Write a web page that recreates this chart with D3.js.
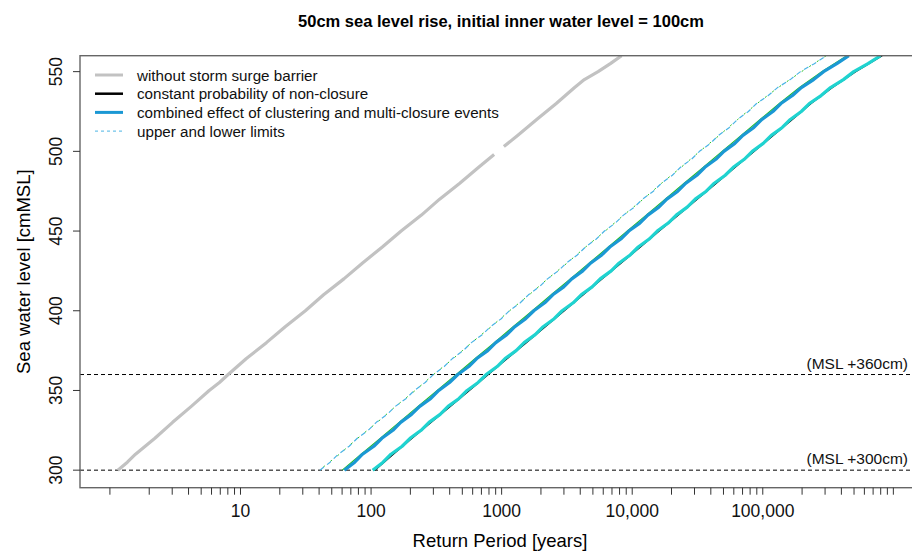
<!DOCTYPE html>
<html>
<head>
<meta charset="utf-8">
<script src="https://cdn.jsdelivr.net/npm/d3@7"></script>
<style>
  html, body { margin: 0; padding: 0; background: #fff; }
  svg { display: block; font-family: "Liberation Sans", Arial, sans-serif; }
</style>
</head>
<body>
<svg id="chart" width="912" height="551"></svg>
<script>
// Water levels (cm above MSL), 5 cm steps, for the main curves
const levelsFine = [300, 305, 310, 315, 320, 325, 330, 335, 340, 345, 350, 355, 360, 365, 370, 375, 380,
                    385, 390, 395, 400, 405, 410, 415, 420, 425, 430, 435, 440, 445, 450, 455, 460, 465,
                    470, 475, 480, 485, 490, 495, 500, 505, 510, 515, 520, 525, 530, 535, 540, 545, 550,
                    555, 560];

// Return periods [years]: combined effect of clustering and multi-closure events
const periodsCombined = [62.4, 75.0, 86.0, 105, 121, 147, 168.5, 204, 236, 287, 330, 399, 462, 560, 645,
                         783, 902, 1095, 1262, 1530, 1765, 2140, 2465, 2990, 3445, 4185, 4820, 5850, 6740,
                         8180, 9420, 11440, 13180, 15990, 18420, 22370, 25760, 31270, 36020, 43720, 50370,
                         61130, 70430, 85480, 98480, 119500, 137700, 168800, 197400, 245300, 292100, 369000,
                         456000];
// Upper limit
const periodsUpper = [40.6, 48.6, 56.1, 68.0, 78.4, 95.0, 109.7, 132.9, 153.3, 185.8, 214.6, 259.8, 300,
                      363.2, 419.5, 508, 586.5, 710.3, 820.2, 993.2, 1147, 1389, 1604, 1942, 2243, 2715,
                      3136, 3797, 4385, 5309, 6131, 7424, 8574, 10380, 11990, 14515, 16760, 20300, 23440,
                      28380, 32770, 39680, 45830, 55490, 64080, 77590, 89600, 110100, 129700, 162300,
                      194400, 248100, 308000];
// Lower limit
const periodsLower = [102.9, 123.5, 142, 173, 199, 241.5, 278, 338, 389, 472, 544, 661, 761, 924, 1063,
                      1291, 1487, 1806, 2080, 2524, 2908, 3530, 4066, 4935, 5686, 6900, 7950, 9650, 11120,
                      13490, 15550, 18870, 21740, 26380, 30400, 36890, 42500, 51580, 59430, 72120, 83100,
                      100850, 116200, 141000, 162500, 197200, 227200, 279800, 330300, 414400, 497500,
                      638800, 798000];

// Water levels, 10 cm steps, for the secondary runs
const levels = [300, 310, 320, 330, 340, 350, 360, 370, 380, 390, 400, 410, 420, 430,
                440, 450, 460, 470, 480, 490, 500, 510, 520, 530, 540, 550, 560];
const periodsConstant = [107, 148, 206, 289, 404, 566, 790, 1105, 1545, 2160, 3020, 4220, 5900, 8240,
                         11560, 16100, 22600, 31450, 44100, 61500, 86200, 120200, 168500, 234500, 342000,
                         515000, 822000];
const periodsCombinedAlt = [60.2, 84, 118, 164, 229, 321, 450, 628, 880, 1225, 1720, 2400, 3360, 4700,
                            6580, 9180, 12800, 17900, 25000, 35100, 48800, 68400, 95500, 134000, 191000,
                            283000, 440000];
const periodsUpperAlt = [40.2, 57.2, 78.9, 111.5, 154, 218, 301, 426, 589, 832, 1150, 1626, 2250, 3180,
                         4400, 6210, 8600, 12150, 16800, 23700, 32900, 46400, 64200, 90500, 131000,
                         198000, 306000];

// Reference run without the barrier (gap in the record around 500 cm)
const levelsNoBarrier = [300, 305, 310, 320, 330, 340, 350, 355, 360, 370, 380, 390, 400, 410, 420, 430,
                         440, 450, 460, 470, 480, 490, 498, 500, 503, 510, 520, 530, 540, 545, 550, 555, 560];
const periodsNoBarrier = [1.15, 1.36, 1.57, 2.21, 3.02, 4.2, 5.76, 6.9, 8.05, 11.1, 15.8, 22.0, 31.4, 43.3,
                          61.9, 86.1, 122, 170, 243, 335, 478, 667, 876, null, 1040, 1325, 1855, 2620,
                          3620, 4300, 5480, 6800, 8290];

// Axis ticks
const yTicks = [300, 350, 400, 450, 500, 550];
const xLabelValues = [10, 100, 1000, 10000, 100000];
const xLabelTexts = ["10", "100", "1000", "10,000", "100,000"];
const xMinorDecades = [1, 10, 100, 1000, 10000, 100000];
const xMinorMultipliers = [1, 2, 3, 4, 5, 6, 7, 8, 9];

// Reference levels
const refLevels = [300, 360];
const refLabels = ["(MSL +300cm)", "(MSL +360cm)"];

// Legend
const legendLabels = ["without storm surge barrier", "constant probability of non-closure",
                      "combined effect of clustering and multi-closure events", "upper and lower limits"];

const colors = {
  gray: "#c2c2c2", black: "#000000", blue: "#1b98d4", cyan: "#1fd3d0",
  green: "#27bf25", limit: "#4ab4e4"
};

const svg = d3.select("#chart");
const plot = { left: 80, top: 55.7, right: 920, bottom: 487.7 };

const x = d3.scaleLog().domain([0.59, 1.6e6]).range([plot.left, plot.right]);
const y = d3.scaleLinear().domain([289, 560]).range([plot.bottom, plot.top]);

svg.append("defs").append("clipPath").attr("id", "plotClip")
  .append("rect").attr("x", plot.left).attr("y", plot.top)
  .attr("width", plot.right - plot.left).attr("height", plot.bottom - plot.top);

const g = svg.append("g").attr("clip-path", "url(#plotClip)");

// Horizontal reference levels
refLevels.forEach(v => {
  g.append("line")
    .attr("x1", plot.left).attr("x2", plot.right)
    .attr("y1", y(v)).attr("y2", y(v))
    .attr("stroke", "#000").attr("stroke-width", 1)
    .attr("stroke-dasharray", "4,3");
});
refLevels.forEach((v, i) => {
  svg.append("text")
    .attr("x", 908).attr("y", y(v) - 6)
    .attr("text-anchor", "end")
    .attr("font-size", 15.5)
    .attr("fill", "#111")
    .text(refLabels[i]);
});

function series(lv, periods) {
  return lv.map((l, i) => ({ level: l, period: periods[i] }));
}
const line = d3.line()
  .defined(d => d.period != null)
  .x(d => x(d.period))
  .y(d => y(d.level));

function draw(data, color, width, dash, offset) {
  const p = g.append("path").datum(data)
    .attr("d", line)
    .attr("fill", "none")
    .attr("stroke", color)
    .attr("stroke-width", width)
    .attr("stroke-linejoin", "round");
  if (dash) p.attr("stroke-dasharray", dash);
  if (offset) p.attr("stroke-dashoffset", offset);
  return p;
}

draw(series(levelsNoBarrier, periodsNoBarrier), colors.gray, 3.2);
draw(series(levels, periodsConstant), colors.black, 1.3);
draw(series(levelsFine, periodsLower), colors.cyan, 3.2);
draw(series(levels, periodsUpperAlt), colors.green, 1, "2,7", -5);
draw(series(levelsFine, periodsUpper), colors.limit, 1.2, "5,4");
draw(series(levels, periodsCombinedAlt), colors.green, 1.2);
draw(series(levelsFine, periodsCombined), colors.blue, 3.2);

// Frame
svg.append("rect")
  .attr("x", plot.left).attr("y", plot.top)
  .attr("width", plot.right - plot.left).attr("height", plot.bottom - plot.top)
  .attr("fill", "none").attr("stroke", "#666").attr("stroke-width", 1.4);

// Y axis
const yAxis = svg.append("g").attr("transform", `translate(${plot.left},0)`);
yTicks.forEach(v => {
  yAxis.append("line").attr("x1", 0).attr("x2", -7)
    .attr("y1", y(v)).attr("y2", y(v)).attr("stroke", "#333").attr("stroke-width", 1);
  yAxis.append("text")
    .attr("transform", `translate(-18,${y(v)}) rotate(-90)`)
    .attr("text-anchor", "middle")
    .attr("font-size", 17.5).attr("fill", "#111")
    .text(v);
});

// X axis
const minorTicks = [];
xMinorDecades.forEach(dec => xMinorMultipliers.forEach(m => minorTicks.push(dec * m)));
minorTicks.push(1e6);
const xAxis = svg.append("g").attr("transform", `translate(0,${plot.bottom})`);
minorTicks.forEach(t => {
  xAxis.append("line").attr("x1", x(t)).attr("x2", x(t))
    .attr("y1", 0).attr("y2", 7).attr("stroke", "#333").attr("stroke-width", 1);
});
xLabelValues.forEach((t, i) => {
  xAxis.append("text")
    .attr("x", x(t)).attr("y", 29.5)
    .attr("text-anchor", "middle")
    .attr("font-size", 17.5).attr("fill", "#111")
    .text(xLabelTexts[i]);
});

// Titles
svg.append("text")
  .attr("x", 501).attr("y", 27)
  .attr("text-anchor", "middle")
  .attr("font-size", 16.5).attr("font-weight", "bold")
  .text("50cm sea level rise, initial inner water level = 100cm");
svg.append("text")
  .attr("x", 500).attr("y", 547)
  .attr("text-anchor", "middle")
  .attr("font-size", 18.5)
  .text("Return Period [years]");
svg.append("text")
  .attr("transform", `translate(30,${(plot.top + plot.bottom) / 2}) rotate(-90)`)
  .attr("text-anchor", "middle")
  .attr("font-size", 18.5)
  .text("Sea water level [cmMSL]");

// Legend
const legendColors = [colors.gray, colors.black, colors.blue, colors.limit];
const legendWidths = [3, 2.5, 3, 1];
const legend = svg.append("g");
legendLabels.forEach((lab, i) => {
  const ly = 75 + i * 18.7;
  const ln = legend.append("line")
    .attr("x1", 95).attr("x2", 123).attr("y1", ly).attr("y2", ly)
    .attr("stroke", legendColors[i]).attr("stroke-width", legendWidths[i]);
  if (i === 3) ln.attr("stroke-dasharray", "3,3");
  legend.append("text")
    .attr("x", 137).attr("y", ly + 5.5)
    .attr("font-size", 15.2).attr("fill", "#111")
    .text(lab);
});
</script>
</body>
</html>
